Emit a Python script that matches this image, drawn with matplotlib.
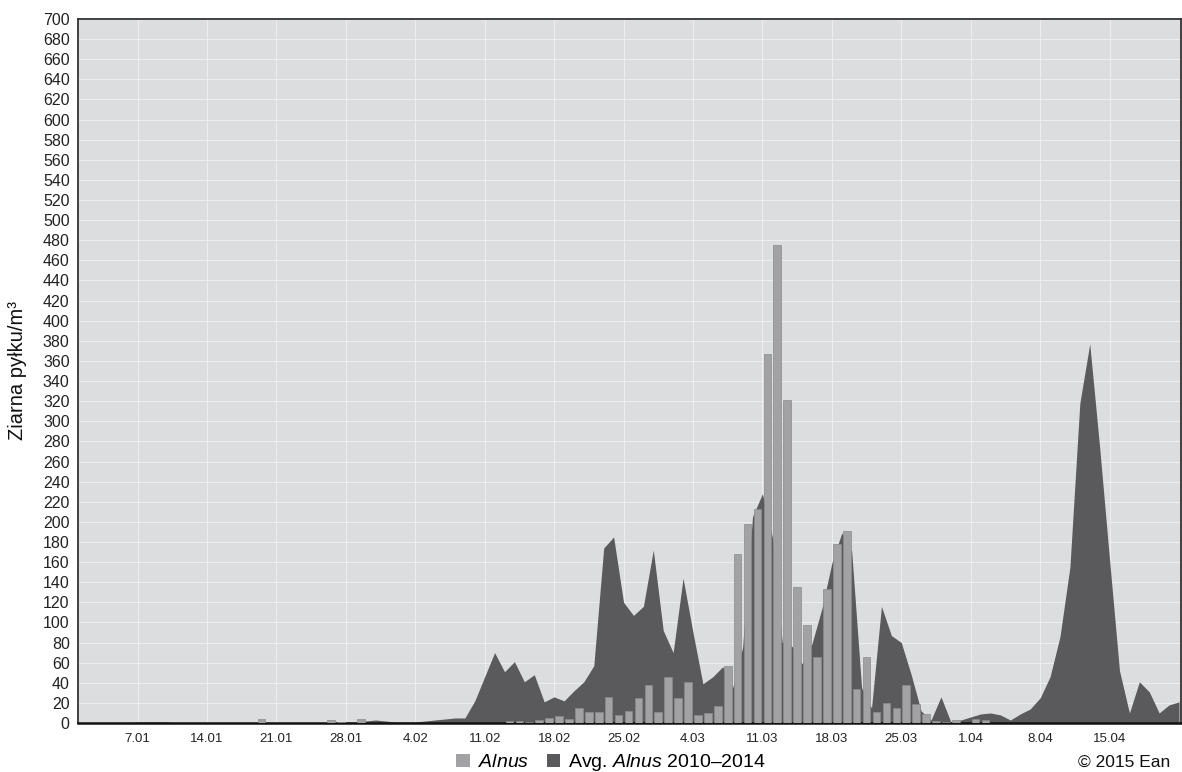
import matplotlib
matplotlib.use("Agg")
import matplotlib.pyplot as plt
from matplotlib.patches import Patch
import numpy as np
import pandas as pd

# ---------------- data ----------------
tick_labels = ['7.01', '14.01', '21.01', '28.01', '4.02', '11.02', '18.02',
               '25.02', '4.03', '11.03', '18.03', '25.03', '1.04', '8.04', '15.04']

# daily Alnus counts (2015), one per day starting 1 Jan
alnus = [0, 0, 0, 0, 0, 0, 0, 0, 0, 0,
         0, 0, 0, 0, 0, 0, 0, 0, 4, 0,
         0, 0, 0, 0, 0, 3, 1, 0, 4, 0,
         0, 0, 0, 0, 0, 0, 0, 0, 0, 0,
         0, 0, 0, 2, 2, 0.5, 3, 5, 7, 4,
         15, 11, 11, 26, 8, 12, 25, 38, 11, 46,
         25, 41, 8, 10, 17, 57, 168, 198, 213, 367,
         475, 321, 135, 97, 66, 133, 178, 191, 34, 66,
         11, 20, 15, 38, 19, 9, 2, 1, 3, 0,
         4, 3, 0, 0, 0, 0, 0, 0, 0, 0,
         0, 0, 0, 0, 0, 0, 0, 0, 0, 0,
         0]

# average Alnus 2010-2014, one per day starting 1 Jan
avg_alnus = [0, 0, 0, 0, 0, 0, 1, 1, 1, 1,
             0, 0, 0, 0, 0, 0, 0, 0, 0, 0,
             0, 0, 0, 0, 0, 0, 1, 1, 1, 2,
             3, 2, 1, 1, 1, 2, 3, 4, 5, 5,
             22, 46, 70, 51, 61, 41, 48, 21, 26, 22,
             32, 41, 57, 174, 185, 120, 107, 116, 172, 92,
             70, 144, 90, 39, 46, 56, 35, 75, 205, 228,
             185, 80, 76, 59, 79, 114, 159, 189, 171, 35,
             15, 116, 87, 80, 48, 12, 3, 26, 1, 3,
             6, 9, 10, 8, 3, 9, 14, 25, 46, 86,
             155, 318, 377, 274, 162, 52, 10, 41, 31, 10,
             18, 21]

y_ticks = list(range(0, 701, 20))

# ---------------- style ----------------
plt.rcParams['font.family'] = ['Liberation Sans', 'DejaVu Sans']
plt.rcParams['mathtext.fontset'] = 'custom'
plt.rcParams['mathtext.rm'] = 'Liberation Sans'
plt.rcParams['mathtext.it'] = 'Liberation Sans:italic'

bar_color = '#a2a2a4'
bar_edge = '#8a8a8c'
area_color = '#5a5a5c'
bg_color = '#dcdddf'
grid_color = '#eeeeef'

fig = plt.figure(figsize=(11.82, 7.72), dpi=100)
ax = fig.add_axes([78 / 1182, 49 / 772, (1181 - 78) / 1182, (753 - 49) / 772])
ax.set_facecolor(bg_color)

x_area = np.arange(len(avg_alnus))
x_bar = np.arange(len(alnus)) + 0.5

ax.fill_between(x_area, 0, avg_alnus, color=area_color, linewidth=0, zorder=2)
ax.bar(x_bar, alnus, width=0.77, color=bar_color, edgecolor=bar_edge,
       linewidth=0.5, zorder=3)

# x ticks from date labels
start = pd.Timestamp('2015-01-01')
tick_pos = [(pd.to_datetime('2015-' + lab.split('.')[1] + '-' + lab.split('.')[0]) - start).days
            for lab in tick_labels]
ax.set_xticks(tick_pos)
ax.set_xticklabels(tick_labels, fontsize=9.5, color='#222222')
ax.set_yticks(y_ticks)
ax.set_yticklabels([str(v) for v in y_ticks], fontsize=11.5, color='#222222')
ax.tick_params(axis='both', length=0)
ax.tick_params(axis='x', pad=7)
ax.tick_params(axis='y', pad=6)

ax.set_xlim(0, 111.2)
ax.set_ylim(0, 700)

ax.grid(True, color=grid_color, linewidth=0.8, zorder=1)
ax.set_axisbelow(True)

for side in ['left', 'top', 'right']:
    ax.spines[side].set_color('#333333')
    ax.spines[side].set_linewidth(1.3)
ax.spines['bottom'].set_color('#111111')
ax.spines['bottom'].set_linewidth(1.8)

ax.set_ylabel('Ziarna pyłku/m³', fontsize=14.5, color='#111111')
ax.yaxis.set_label_coords(-0.046, 0.5)

handles = [Patch(facecolor=bar_color, edgecolor='none', label=r'$\it{Alnus}$'),
           Patch(facecolor=area_color, edgecolor='none', label=r'Avg. $\it{Alnus}$ 2010–2014')]
fig.legend(handles=handles, loc='center', bbox_to_anchor=(0.517, 0.012), ncol=2,
           frameon=False, fontsize=14, handlelength=0.7, handleheight=0.7,
           handletextpad=0.4, columnspacing=0.9, borderaxespad=0)

fig.text(0.99, 0.012, '© 2015 Ean', ha='right', va='center', fontsize=12.5, color='#111111')

fig.savefig('out.png', dpi=100, facecolor='white')
